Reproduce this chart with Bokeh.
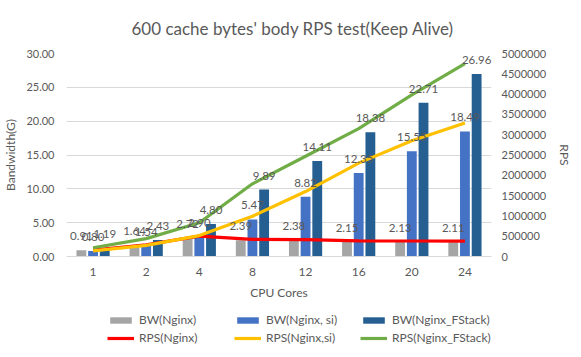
from bokeh.plotting import figure
from bokeh.layouts import column
from bokeh.models import (Range1d, LinearAxis, FixedTicker, NumeralTickFormatter,
                          Legend, LegendItem, ColumnDataSource)
from bokeh.core.properties import value
from bokeh.embed import file_html
from bokeh.resources import INLINE

cores = ["1", "2", "4", "8", "12", "16", "20", "24"]
bw_nginx = [0.91, 1.64, 2.72, 2.39, 2.38, 2.15, 2.13, 2.11]
bw_nginx_si = [0.80, 1.54, 2.90, 5.47, 8.82, 12.35, 15.55, 18.49]
bw_fstack = [1.19, 2.43, 4.80, 9.89, 14.11, 18.38, 22.71, 26.96]
rps_nginx = [160000, 290000, 500000, 420000, 415000, 385000, 382000, 380000]
rps_nginx_si = [140000, 275000, 515000, 990000, 1600000, 2300000, 2850000, 3290000]
rps_fstack = [215000, 440000, 830000, 1790000, 2470000, 3150000, 3980000, 4750000]

names_bw = ["BW(Nginx)", "BW(Nginx, si)", "BW(Nginx_FStack)"]
names_rps = ["RPS(Nginx)", "RPS(Nginx,si)", "RPS(Nginx_FStack)"]

FONT = "Lato"
TXT = "#595959"
GRID = "#D9D9D9"
bar_colors = ["#A5A5A5", "#4472C4", "#255E91"]
line_colors = ["#FF0000", "#FFC000", "#70AD47"]

p = figure(width=581, height=310, output_backend="svg", toolbar_location=None,
           x_range=Range1d(-0.5, 7.5), y_range=Range1d(0, 30),
           min_border_left=64, min_border_right=90, min_border_bottom=54,
           min_border_top=40)
p.outline_line_color = None
p.background_fill_color = "white"
p.border_fill_color = "white"

p.title.text = "600 cache bytes' body RPS test(Keep Alive)"
p.title.align = "left"
p.title.text_font = FONT
p.title.text_font_size = "17px"
p.title.text_font_style = "normal"
p.title.text_color = TXT
p.title.offset = 65
p.title.standoff = 30

p.extra_y_ranges = {"rps": Range1d(0, 5000000)}

xs = list(range(len(cores)))
offs = [-0.22, 0.0, 0.22]
bw_series = [bw_nginx, bw_nginx_si, bw_fstack]
for s, o, c in zip(bw_series, offs, bar_colors):
    src = ColumnDataSource(dict(x=[v + o for v in xs], top=s))
    p.vbar(x="x", top="top", width=0.185, source=src, fill_color=c, line_color=None)

for s, c in zip([rps_nginx, rps_nginx_si, rps_fstack], line_colors):
    p.line(xs, s, y_range_name="rps", line_color=c, line_width=3.2)

for s, o in zip(bw_series, offs):
    src = ColumnDataSource(dict(x=[v + o for v in xs], y=s, t=["%.2f" % v for v in s]))
    p.text(x="x", y="y", text="t", source=src, text_align="center", text_baseline="middle",
           y_offset=-14, text_font=value(FONT), text_font_size="11.5px", text_color=TXT)

# axes
p.xaxis.ticker = FixedTicker(ticks=xs)
p.xaxis.major_label_overrides = {i: c for i, c in enumerate(cores)}
p.xaxis.axis_label = "CPU Cores"
p.xaxis.axis_line_color = GRID
p.xaxis.major_tick_line_color = None
p.xaxis.minor_tick_line_color = None
p.xaxis.major_label_standoff = 5
p.xaxis.axis_label_standoff = 6

p.yaxis.ticker = FixedTicker(ticks=[0, 5, 10, 15, 20, 25, 30])
p.yaxis.formatter = NumeralTickFormatter(format="0.00")
p.yaxis.axis_label = "Bandwidth(G)"
p.yaxis.axis_line_color = None
p.yaxis.major_tick_line_color = None
p.yaxis.minor_tick_line_color = None
p.yaxis.major_label_standoff = 6
p.yaxis.axis_label_standoff = 5

ry = LinearAxis(y_range_name="rps", axis_label="RPS",
                ticker=FixedTicker(ticks=list(range(0, 5000001, 500000))),
                formatter=NumeralTickFormatter(format="0"))
ry.axis_line_color = None
ry.major_tick_line_color = None
ry.minor_tick_line_color = None
ry.major_label_standoff = 4
ry.axis_label_standoff = 8
p.add_layout(ry, "right")

for ax in [p.xaxis[0], p.yaxis[0], ry]:
    ax.major_label_text_font = FONT
    ax.major_label_text_font_size = "11px"
    ax.major_label_text_color = TXT
    ax.axis_label_text_font = FONT
    ax.axis_label_text_font_size = "12px"
    ax.axis_label_text_font_style = "normal"
    ax.axis_label_text_color = TXT
p.xaxis.major_label_text_font_size = "12px"

p.xgrid.grid_line_color = None
p.ygrid.grid_line_color = GRID
p.ygrid.ticker = FixedTicker(ticks=[0, 5, 10, 15, 20, 25, 30])

# legend strip below the chart (frame is aligned with the chart's frame)
lf = figure(width=581, height=47, output_backend="svg", toolbar_location=None,
            x_range=Range1d(0, 1), y_range=Range1d(0, 1),
            min_border=0, outline_line_color=None)
lf.axis.visible = False
lf.grid.visible = False
lf.border_fill_color = "white"

xpos = [41, 168, 294]
for i in range(3):
    br = lf.vbar(x=[-10], top=[-10], bottom=[-11], width=0.1,
                 fill_color=bar_colors[i], line_color=None)
    lr = lf.line(x=[-10, -9], y=[-10, -10], line_color=line_colors[i], line_width=3.2)
    lg = Legend(items=[LegendItem(label=names_bw[i], renderers=[br]),
                       LegendItem(label=names_rps[i], renderers=[lr])],
                location=(xpos[i], 12), orientation="vertical",
                glyph_width=27, glyph_height=8, label_height=15, spacing=3,
                label_standoff=5, padding=0, margin=0,
                border_line_color=None, background_fill_alpha=0,
                label_text_font=FONT, label_text_font_size="12px",
                label_text_color=TXT)
    lf.add_layout(lg)

open("out.html", "w").write(file_html(column(p, lf, spacing=0), INLINE))
